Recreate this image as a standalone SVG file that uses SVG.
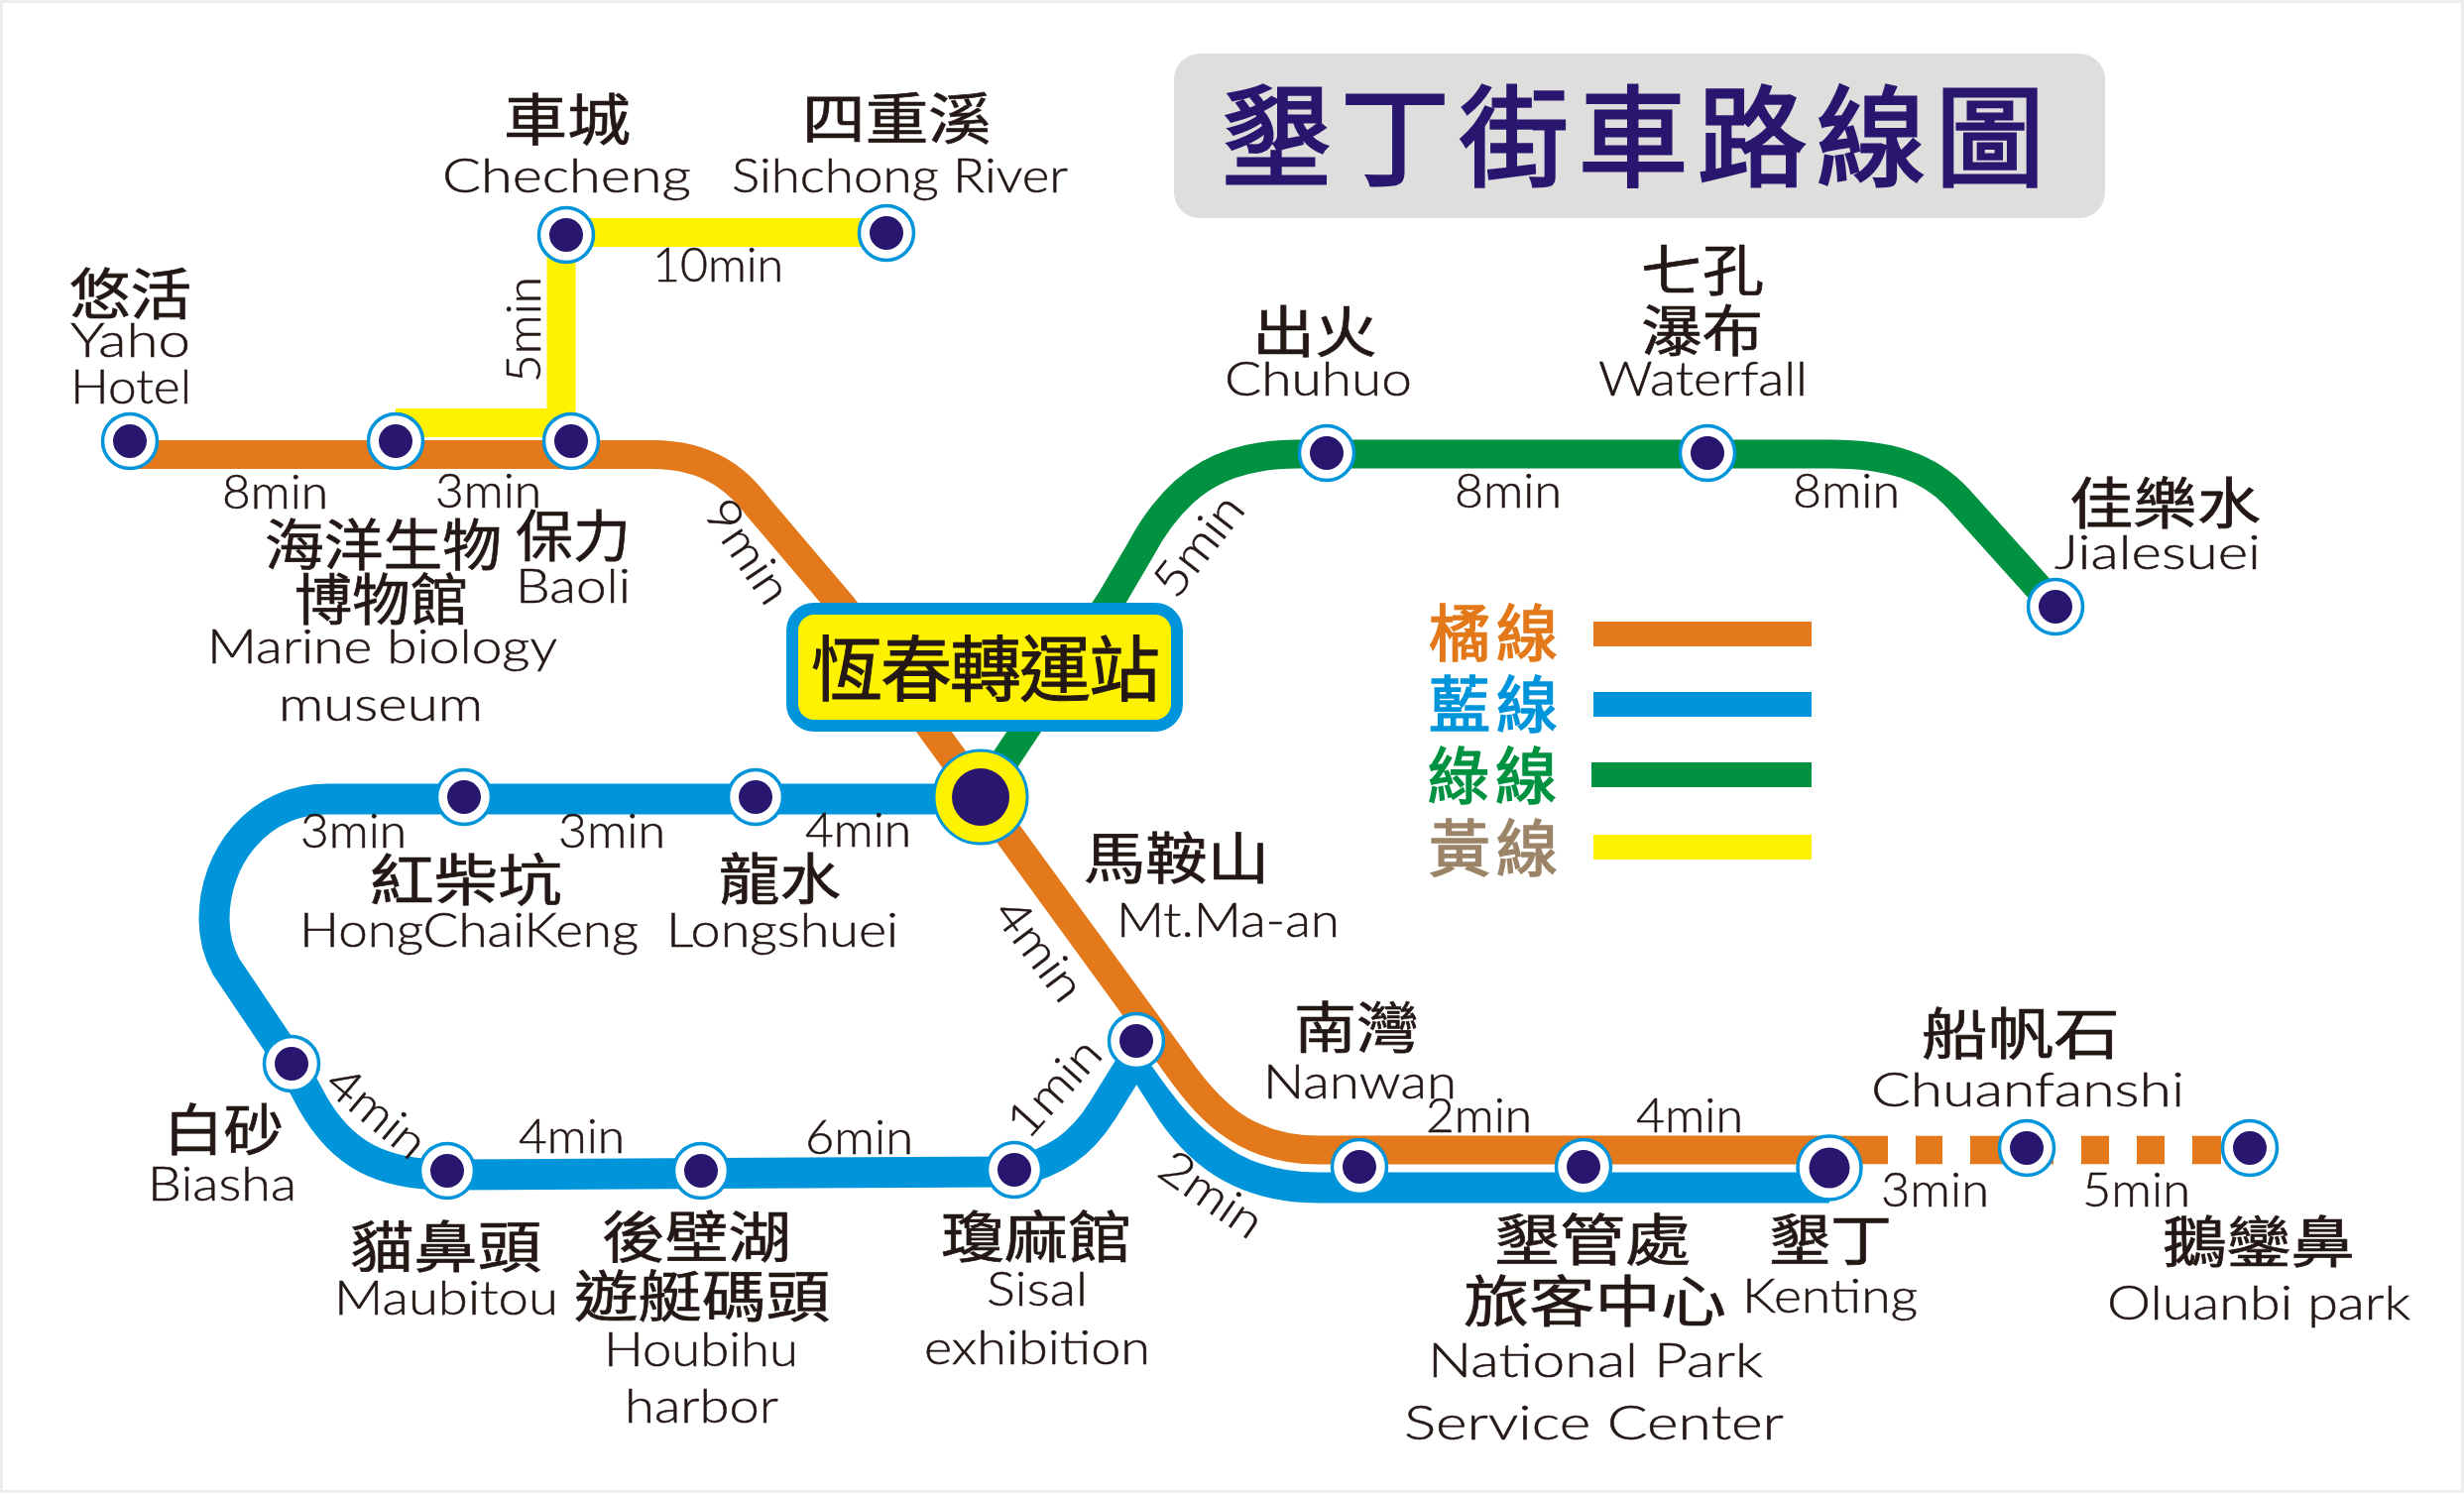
<svg xmlns="http://www.w3.org/2000/svg" width="2485" height="1507" viewBox="0 0 2485 1507">
<style>
.l{fill:none;stroke-width:29}
.st circle.o{fill:#fff;stroke:#0095DA;stroke-width:3.5}
.st circle.i{fill:#29166F}
text{fill:#231815;stroke:#231815;stroke-width:.5;font-family:"Lato","Noto Sans",sans-serif;font-weight:300;font-size:48px}
.c{font-family:"Noto Sans CJK TC","Noto Sans CJK SC",sans-serif;font-weight:400;font-size:56px;stroke-width:.7}
.g{font-size:62px;stroke-width:1.6}
</style>
<rect x="1.500" y="1.500" width="2482" height="1503" fill="#fff" stroke="#EDEDED" stroke-width="3"/>
<g id="title"><rect x="1184" y="54" width="939" height="166" rx="26" fill="#DEDEDC"/>
<text class="c" x="1232" y="179" textLength="830" style="font-size:110px;stroke-width:3;fill:#29166F;stroke:#29166F">墾丁街車路線圖</text></g>
<g id="connectors">
<path class="l" stroke="#FFF200" d="M894 234.500H566V426.500H399"/>
<path fill="none" stroke="#0095DA" stroke-width="31" d="M989 806H330C260 806 216 865 216 927C216 945 220 960 228 975L294 1073L315 1112C345 1165 385 1185 450 1185L1023 1182C1065 1172 1090 1155 1112 1120L1146 1065L1181 1120C1215 1170 1260 1198 1330 1198H1845"/>
<path fill="none" stroke="#fff" stroke-width="42" d="M1165 1043L1180 1065C1215 1115 1250 1160 1330 1160H1400"/>
<path fill="none" stroke="#009240" stroke-width="29" d="M989 804L1120 606L1150 555C1190 480 1240 458 1310 458H1845C1905 458 1945 470 1975 503L2073 612"/>
<path class="l" stroke="#E3791A" d="M131 458.500H658C715 458.500 745 485 765 512L850 612L1180 1065C1215 1115 1250 1160 1330 1160H1845"/>
<path fill="none" stroke="#E3791A" stroke-width="28.500" d="M1845 1160H1904M1932 1160H1959M1987 1160H2071M2099 1160H2127M2155 1160H2183M2211 1160H2240"/>
</g>
<g id="hubbox"><rect x="799" y="614" width="388" height="118" rx="22" fill="#FFF200" stroke="#0095DA" stroke-width="12"/>
<text class="c" x="818" y="701" textLength="352" style="font-size:72px;stroke-width:1">恆春轉運站</text></g>
<g class="st">
<g id="n-yaho"><circle class="o" cx="131" cy="445" r="27.500"/><circle class="i" cx="131" cy="445" r="17"/></g>
<g id="n-marine"><circle class="o" cx="399" cy="445" r="27.500"/><circle class="i" cx="399" cy="445" r="17"/></g>
<g id="n-baoli"><circle class="o" cx="576" cy="445" r="27.500"/><circle class="i" cx="576" cy="445" r="17"/></g>
<g id="n-checheng"><circle class="o" cx="571" cy="237" r="27.500"/><circle class="i" cx="571" cy="237" r="17"/></g>
<g id="n-sihchong"><circle class="o" cx="894" cy="235" r="27.500"/><circle class="i" cx="894" cy="235" r="17"/></g>
<g id="n-chuhuo"><circle class="o" cx="1338" cy="457" r="27.500"/><circle class="i" cx="1338" cy="457" r="17"/></g>
<g id="n-waterfall"><circle class="o" cx="1722" cy="457" r="27.500"/><circle class="i" cx="1722" cy="457" r="17"/></g>
<g id="n-jialesuei"><circle class="o" cx="2073" cy="612" r="27.500"/><circle class="i" cx="2073" cy="612" r="17"/></g>
<g id="n-hong"><circle class="o" cx="468" cy="804" r="27.500"/><circle class="i" cx="468" cy="804" r="17"/></g>
<g id="n-long"><circle class="o" cx="762" cy="804" r="27.500"/><circle class="i" cx="762" cy="804" r="17"/></g>
<g id="n-hub"><circle cx="989" cy="804" r="47" fill="#FFF200" stroke="#0095DA" stroke-width="3"/><circle class="i" cx="989" cy="804" r="29"/></g>
<g id="n-biasha"><circle class="o" cx="294" cy="1073" r="27.500"/><circle class="i" cx="294" cy="1073" r="17"/></g>
<g id="n-maubitou"><circle class="o" cx="451" cy="1181" r="27.500"/><circle class="i" cx="451" cy="1181" r="17"/></g>
<g id="n-houbihu"><circle class="o" cx="707" cy="1181" r="27.500"/><circle class="i" cx="707" cy="1181" r="17"/></g>
<g id="n-sisal"><circle class="o" cx="1023" cy="1180" r="27.500"/><circle class="i" cx="1023" cy="1180" r="17"/></g>
<g id="n-maan"><circle class="o" cx="1146" cy="1050" r="27.500"/><circle class="i" cx="1146" cy="1050" r="17"/></g>
<g id="n-nanwan"><circle class="o" cx="1371" cy="1177" r="27.500"/><circle class="i" cx="1371" cy="1177" r="17"/></g>
<g id="n-center"><circle class="o" cx="1597" cy="1177" r="27.500"/><circle class="i" cx="1597" cy="1177" r="17"/></g>
<g id="n-kenting"><circle class="o" cx="1845" cy="1178" r="32"/><circle class="i" cx="1845" cy="1178" r="20.500"/></g>
<g id="n-chuan"><circle class="o" cx="2044" cy="1158" r="27.500"/><circle class="i" cx="2044" cy="1158" r="17"/></g>
<g id="n-oluanbi"><circle class="o" cx="2269" cy="1158" r="27.500"/><circle class="i" cx="2269" cy="1158" r="17"/></g>
</g>
<g id="legend">
<text class="c g" x="1441" y="662" textLength="130" style="fill:#E3791A;stroke:#E3791A">橘線</text><rect x="1607" y="627" width="220" height="25" fill="#E3791A"/>
<text class="c g" x="1441" y="734" textLength="130" style="fill:#0095DA;stroke:#0095DA">藍線</text><rect x="1607" y="698" width="220" height="25" fill="#0095DA"/>
<text class="c g" x="1440" y="806" textLength="130" style="fill:#009240;stroke:#009240">綠線</text><rect x="1605" y="769" width="222" height="25" fill="#009240"/>
<text class="c g" x="1441" y="879" textLength="130" style="fill:#9C8468;stroke:#9C8468">黃線</text><rect x="1607" y="842" width="220" height="25" fill="#FFF200"/>
</g>
<g id="labels-cjk">
<text class="c" lengthAdjust="spacingAndGlyphs" x="508" y="141" textLength="128">車城</text>
<text class="c" lengthAdjust="spacingAndGlyphs" x="809" y="140" textLength="191">四重溪</text>
<text class="c" lengthAdjust="spacingAndGlyphs" x="70" y="317" textLength="123">悠活</text>
<text class="c" lengthAdjust="spacingAndGlyphs" x="267" y="570" textLength="239">海洋生物</text>
<text class="c" lengthAdjust="spacingAndGlyphs" x="297" y="625" textLength="175">博物館</text>
<text class="c" lengthAdjust="spacingAndGlyphs" x="520" y="561" textLength="116">保力</text>
<text class="c" lengthAdjust="spacingAndGlyphs" x="1263" y="355" textLength="126">出火</text>
<text class="c" lengthAdjust="spacingAndGlyphs" x="1655" y="293" textLength="124">七孔</text>
<text class="c" lengthAdjust="spacingAndGlyphs" x="1655" y="354" textLength="123">瀑布</text>
<text class="c" lengthAdjust="spacingAndGlyphs" x="2087" y="528" textLength="193">佳樂水</text>
<text class="c" lengthAdjust="spacingAndGlyphs" x="373" y="908" textLength="194">紅柴坑</text>
<text class="c" lengthAdjust="spacingAndGlyphs" x="725" y="907" textLength="123">龍水</text>
<text class="c" lengthAdjust="spacingAndGlyphs" x="1093" y="886" textLength="187">馬鞍山</text>
<text class="c" lengthAdjust="spacingAndGlyphs" x="165" y="1160" textLength="121">白砂</text>
<text class="c" lengthAdjust="spacingAndGlyphs" x="353" y="1278" textLength="193">貓鼻頭</text>
<text class="c" lengthAdjust="spacingAndGlyphs" x="607" y="1268" textLength="191">後壁湖</text>
<text class="c" lengthAdjust="spacingAndGlyphs" x="579" y="1328" textLength="258">遊艇碼頭</text>
<text class="c" lengthAdjust="spacingAndGlyphs" x="949" y="1268" textLength="192">瓊麻館</text>
<text class="c" lengthAdjust="spacingAndGlyphs" x="1305" y="1057" textLength="126">南灣</text>
<text class="c" lengthAdjust="spacingAndGlyphs" x="1938" y="1063" textLength="200">船帆石</text>
<text class="c" lengthAdjust="spacingAndGlyphs" x="1507" y="1271" textLength="198">墾管處</text>
<text class="c" lengthAdjust="spacingAndGlyphs" x="1784" y="1271" textLength="124">墾丁</text>
<text class="c" lengthAdjust="spacingAndGlyphs" x="1476" y="1333" textLength="265">旅客中心</text>
<text class="c" lengthAdjust="spacingAndGlyphs" x="2181" y="1273" textLength="194">鵝鑾鼻</text>
</g>
<g id="labels-en" transform="translate(0 1)">
<text x="446" y="193" textLength="251" lengthAdjust="spacingAndGlyphs">Checheng</text>
<text x="738" y="193" textLength="339" lengthAdjust="spacingAndGlyphs">Sihchong River</text>
<text x="71" y="359" textLength="121" lengthAdjust="spacingAndGlyphs">Yaho</text>
<text x="71" y="406" textLength="122" lengthAdjust="spacingAndGlyphs">Hotel</text>
<text x="209" y="668" textLength="353" lengthAdjust="spacingAndGlyphs">Marine biology</text>
<text x="281" y="726" textLength="206" lengthAdjust="spacingAndGlyphs">museum</text>
<text x="520" y="607" textLength="116" lengthAdjust="spacingAndGlyphs">Baoli</text>
<text x="1235" y="398" textLength="189" lengthAdjust="spacingAndGlyphs">Chuhuo</text>
<text x="1612" y="398" textLength="211" lengthAdjust="spacingAndGlyphs">Waterfall</text>
<text x="2072" y="573" textLength="208" lengthAdjust="spacingAndGlyphs">Jialesuei</text>
<text x="302" y="954" textLength="342" lengthAdjust="spacingAndGlyphs">HongChaiKeng</text>
<text x="672" y="954" textLength="234" lengthAdjust="spacingAndGlyphs">Longshuei</text>
<text x="1126" y="944" textLength="225" lengthAdjust="spacingAndGlyphs">Mt.Ma-an</text>
<text x="149" y="1210" textLength="150" lengthAdjust="spacingAndGlyphs">Biasha</text>
<text x="337" y="1325" textLength="226" lengthAdjust="spacingAndGlyphs">Maubitou</text>
<text x="609" y="1377" textLength="196" lengthAdjust="spacingAndGlyphs">Houbihu</text>
<text x="630" y="1434" textLength="155" lengthAdjust="spacingAndGlyphs">harbor</text>
<text x="995" y="1316" textLength="102" lengthAdjust="spacingAndGlyphs">Sisal</text>
<text x="932" y="1375" textLength="228" lengthAdjust="spacingAndGlyphs">exhibition</text>
<text x="1274" y="1107" textLength="195" lengthAdjust="spacingAndGlyphs">Nanwan</text>
<text x="1887" y="1115" textLength="316" lengthAdjust="spacingAndGlyphs">Chuanfanshi</text>
<text x="1757" y="1323" textLength="177" lengthAdjust="spacingAndGlyphs">Kenting</text>
<text x="1440" y="1388" textLength="338" lengthAdjust="spacingAndGlyphs">National Park</text>
<text x="1416" y="1451" textLength="383" lengthAdjust="spacingAndGlyphs">Service Center</text>
<text x="2125" y="1330" textLength="306" lengthAdjust="spacingAndGlyphs">Oluanbi park</text>
</g>
<g id="labels-time" transform="translate(0 1)">
<text x="658" y="283" textLength="132" lengthAdjust="spacingAndGlyphs">10min</text>
<text x="224" y="512" textLength="107" lengthAdjust="spacingAndGlyphs">8min</text>
<text x="439" y="511" textLength="107" lengthAdjust="spacingAndGlyphs">3min</text>
<text x="1467" y="511" textLength="108" lengthAdjust="spacingAndGlyphs">8min</text>
<text x="1808" y="511" textLength="108" lengthAdjust="spacingAndGlyphs">8min</text>
<text x="303" y="854" textLength="107" lengthAdjust="spacingAndGlyphs">3min</text>
<text x="563" y="854" textLength="108" lengthAdjust="spacingAndGlyphs">3min</text>
<text x="812" y="853" textLength="107" lengthAdjust="spacingAndGlyphs">4min</text>
<text x="523" y="1162" textLength="107" lengthAdjust="spacingAndGlyphs">4min</text>
<text x="812" y="1163" textLength="109" lengthAdjust="spacingAndGlyphs">6min</text>
<text x="1438" y="1141" textLength="107" lengthAdjust="spacingAndGlyphs">2min</text>
<text x="1650" y="1141" textLength="108" lengthAdjust="spacingAndGlyphs">4min</text>
<text x="1897" y="1216" textLength="109" lengthAdjust="spacingAndGlyphs">3min</text>
<text x="2100" y="1216" textLength="109" lengthAdjust="spacingAndGlyphs">5min</text>
<text transform="translate(545 385) rotate(-90)" textLength="107" lengthAdjust="spacingAndGlyphs">5min</text>
<text transform="translate(753 556) rotate(56)" x="-58" y="15" textLength="116" lengthAdjust="spacingAndGlyphs">9min</text>
<text transform="translate(1210 550) rotate(-52)" x="-58" y="15" textLength="116" lengthAdjust="spacingAndGlyphs">5min</text>
<text transform="translate(1047 958) rotate(53)" x="-58" y="15" textLength="116" lengthAdjust="spacingAndGlyphs">4min</text>
<text transform="translate(379 1122) rotate(40)" x="-58" y="15" textLength="116" lengthAdjust="spacingAndGlyphs">4min</text>
<text transform="translate(1064 1097) rotate(-48)" x="-58" y="15" textLength="116" lengthAdjust="spacingAndGlyphs">1min</text>
<text transform="translate(1221 1205) rotate(35)" x="-58" y="15" textLength="116" lengthAdjust="spacingAndGlyphs">2min</text>
</g>
</svg>
